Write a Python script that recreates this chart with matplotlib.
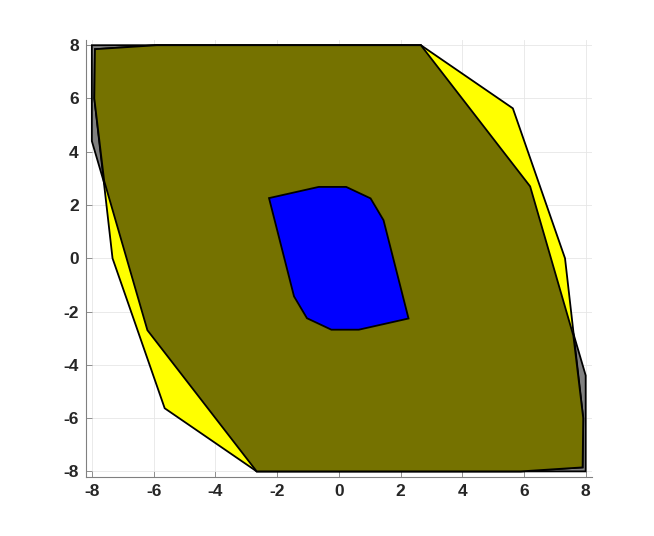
import numpy as np
import matplotlib
matplotlib.use('Agg')
import matplotlib.pyplot as plt
from matplotlib.patches import Polygon

plt.rcParams['font.family'] = ['Liberation Sans', 'DejaVu Sans']

# Polygon vertices (x, y)
gray_x = [-8, 2.66, 6.2, 8, 8, -2.66, -6.2, -8]
gray_y = [8, 8, 2.7, -4.4, -8, -8, -2.7, 4.4]

yellow_x = [-7.9, -5.9, 2.66, 5.64, 7.33, 7.92, 7.9, 5.9, -2.66, -5.64, -7.33, -7.92]
yellow_y = [7.85, 8, 8, 5.63, 0, -6, -7.85, -8, -8, -5.63, 0, 6]

# overlap of gray and yellow
olive_x = [-7.9, -5.9, 2.66, 6.2, 7.6, 7.92, 7.9, 5.9, -2.66, -6.2, -7.6, -7.92]
olive_y = [7.85, 8, 8, 2.7, -2.9, -6, -7.85, -8, -8, -2.7, 2.9, 6]

blue_x = [-2.26, -0.65, 0.24, 1.03, 1.45, 2.26, 0.65, -0.24, -1.03, -1.45]
blue_y = [2.26, 2.68, 2.68, 2.25, 1.43, -2.26, -2.68, -2.68, -2.25, -1.43]

ticks = [-8, -6, -4, -2, 0, 2, 4, 6, 8]

fig = plt.figure(figsize=(6.54, 5.36), dpi=100)
ax = fig.add_axes([0.131, 0.1106, 0.774, 0.815])

for xs, ys, col in [(gray_x, gray_y, '#808080'),
                    (yellow_x, yellow_y, '#ffff00'),
                    (olive_x, olive_y, '#757200'),
                    (blue_x, blue_y, '#0000ff')]:
    ax.add_patch(Polygon(np.column_stack([xs, ys]), closed=True,
                         facecolor=col, edgecolor='black', linewidth=1.3,
                         joinstyle='miter'))

ax.set_xlim(-8.2, 8.2)
ax.set_ylim(-8.2, 8.2)
ax.set_xticks(ticks)
ax.set_yticks(ticks)
ax.set_xticklabels([str(t) for t in ticks], fontweight='bold', fontsize=12.5)
ax.set_yticklabels([str(t) for t in ticks], fontweight='bold', fontsize=12.5)
ax.tick_params(direction='in', length=4, width=0.6, colors='#808080',
               labelcolor='#262626', pad=5)
ax.grid(True, color='#e6e6e6', linewidth=0.6)
ax.set_axisbelow(True)
for s in ['top', 'right']:
    ax.spines[s].set_visible(False)
for s in ['left', 'bottom']:
    ax.spines[s].set_color('#808080')
    ax.spines[s].set_linewidth(0.8)

fig.savefig('out.png', dpi=100)
